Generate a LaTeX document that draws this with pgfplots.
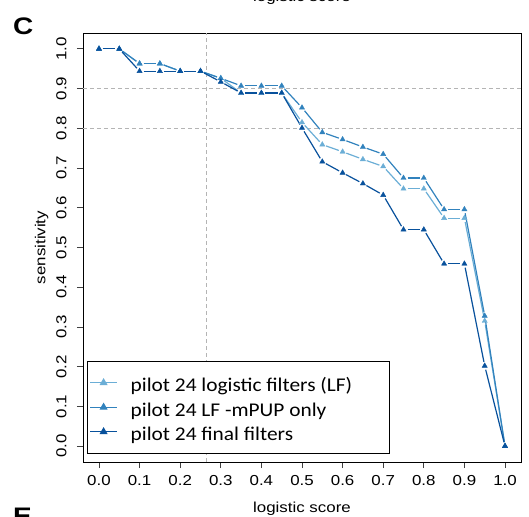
\documentclass[border=0pt]{standalone}
\usepackage{fontspec}
\usepackage{pgfplots}
\usepackage{pgfplotstable}
\pgfplotsset{compat=1.18}
\setmainfont{Liberation Sans}[FakeStretch=1.17]
\newfontfamily\legfont{Carlito}[FakeStretch=1.1]
\definecolor{cLF}{HTML}{6BAED6}
\definecolor{cMP}{HTML}{3182BD}
\definecolor{cFF}{HTML}{08519C}
\definecolor{gridc}{HTML}{B4B4B4}

% x, y, next y
\pgfplotstableread{
x y yn
0.00 1.000 1.000
0.05 1.000 0.963
0.10 0.963 0.963
0.15 0.963 0.944
0.20 0.944 0.944
0.25 0.944 0.926
0.30 0.926 0.889
0.35 0.889 0.889
0.40 0.889 0.889
0.45 0.889 0.815
0.50 0.815 0.759
0.55 0.759 0.741
0.60 0.741 0.722
0.65 0.722 0.704
0.70 0.704 0.648
0.75 0.648 0.648
0.80 0.648 0.574
0.85 0.574 0.574
0.90 0.574 0.315
0.95 0.315 0.000
1.00 0.000 0.000
}\tLF
\pgfplotstableread{
x y yn
0.00 1.000 1.000
0.05 1.000 0.963
0.10 0.963 0.963
0.15 0.963 0.944
0.20 0.944 0.944
0.25 0.944 0.926
0.30 0.926 0.907
0.35 0.907 0.907
0.40 0.907 0.907
0.45 0.907 0.852
0.50 0.852 0.790
0.55 0.790 0.772
0.60 0.772 0.753
0.65 0.753 0.735
0.70 0.735 0.675
0.75 0.675 0.675
0.80 0.675 0.596
0.85 0.596 0.596
0.90 0.596 0.328
0.95 0.328 0.000
1.00 0.000 0.000
}\tMP
\pgfplotstableread{
x y yn
0.00 1.000 1.000
0.05 1.000 0.944
0.10 0.944 0.944
0.15 0.944 0.944
0.20 0.944 0.944
0.25 0.944 0.917
0.30 0.917 0.889
0.35 0.889 0.889
0.40 0.889 0.889
0.45 0.889 0.801
0.50 0.801 0.716
0.55 0.716 0.688
0.60 0.688 0.661
0.65 0.661 0.632
0.70 0.632 0.545
0.75 0.545 0.545
0.80 0.545 0.459
0.85 0.459 0.459
0.90 0.459 0.202
0.95 0.202 0.000
1.00 0.000 0.000
}\tFF

\begin{document}
\begin{tikzpicture}
\begin{axis}[
  at={(0bp,0bp)}, anchor=south west,
  scale only axis, width=438bp, height=429bp,
  xmin=-0.0394, xmax=1.0394, ymin=-0.04, ymax=1.04,
  axis line style={line width=0.9bp, black},
  xtick={0,0.1,0.2,0.3,0.4,0.5,0.6,0.7,0.8,0.9,1.0},
  ytick={0,0.1,0.2,0.3,0.4,0.5,0.6,0.7,0.8,0.9,1.0},
  xtick pos=bottom, ytick pos=left,
  tick align=outside, major tick length=6bp,
  tick style={line width=0.8bp, black!75},
  /pgf/number format/assume math mode=true,
  /pgf/number format/.cd, fixed, fixed zerofill, precision=1, /pgfplots/.cd,
  ticklabel style={font=\fontsize{14.5}{17}\selectfont},
  xticklabel style={yshift=-4bp},
  yticklabel style={rotate=90, anchor=south, yshift=7bp},
  xlabel={logistic score}, ylabel={sensitivity},
  label style={font=\fontsize{14.5}{17}\selectfont},
  xlabel style={at={(rel axis cs:0.5,0)}, anchor=base, yshift=-50bp},
  ylabel style={at={(rel axis cs:0,0.5)}, anchor=base, yshift=37.5bp},
  clip=false,
  legend cell align=left,
  legend style={at={(0.0091,0.0186)}, anchor=south west,
    draw=black, line width=1bp, inner xsep=2bp, inner ysep=9.5bp,
    font=\legfont\fontsize{19.5}{22}\selectfont,
    nodes={text height=20.75bp, text depth=2.75bp, inner ysep=0.5bp},
    column sep=11bp},
  legend image code/.code={\draw[mark repeat=2, mark phase=2, line width=1.2bp, #1]
     plot coordinates {(0bp,0bp) (13.5bp,0bp) (27bp,0bp)};},
]
% reference lines
\draw[gridc, line width=1bp, dash pattern=on 4bp off 3bp] (axis cs:0.265,-0.04) -- (axis cs:0.265,1.04);
\draw[gridc, line width=1bp, dash pattern=on 4bp off 3bp] (axis cs:-0.0394,0.9) -- (axis cs:1.0394,0.9);
\draw[gridc, line width=1bp, dash pattern=on 4bp off 3bp] (axis cs:-0.0394,0.8) -- (axis cs:1.0394,0.8);

% segments (type b: gaps around points)
\addplot[forget plot, cLF, line width=1.2bp, restrict x to domain=-0.01:0.96,
   quiver={u=0.05, v=\thisrow{yn}-\thisrow{y},
   every arrow/.append style={shorten <=4bp, shorten >=4bp}}] table[x=x,y=y] {\tLF};
\addplot[forget plot, cMP, line width=1.2bp, restrict x to domain=-0.01:0.96,
   quiver={u=0.05, v=\thisrow{yn}-\thisrow{y},
   every arrow/.append style={shorten <=4bp, shorten >=4bp}}] table[x=x,y=y] {\tMP};
\addplot[forget plot, cFF, line width=1.2bp, restrict x to domain=-0.01:0.96,
   quiver={u=0.05, v=\thisrow{yn}-\thisrow{y},
   every arrow/.append style={shorten <=4bp, shorten >=4bp}}] table[x=x,y=y] {\tFF};
% markers
\addplot[forget plot, only marks, mark=triangle*, mark size=3bp, cLF] table[x=x,y=y] {\tLF};
\addplot[forget plot, only marks, mark=triangle*, mark size=3bp, cMP] table[x=x,y=y] {\tMP};
\addplot[forget plot, only marks, mark=triangle*, mark size=3bp, cFF] table[x=x,y=y] {\tFF};

\addlegendimage{cLF, mark=triangle*, mark size=3.5bp, solid}
\addlegendentry{\makebox[255bp][l]{pilot 24 logistic filters (LF)}}
\addlegendimage{cMP, mark=triangle*, mark size=3.5bp, solid}
\addlegendentry{pilot 24 LF -mPUP only}
\addlegendimage{cFF, mark=triangle*, mark size=3.5bp, solid}
\addlegendentry{pilot 24 final filters}
\end{axis}
\node[anchor=south west, inner sep=0pt, font=\bfseries\fontsize{24}{26}\selectfont] at (-70bp,427bp) {C};
\node[anchor=north west, inner sep=0pt, font=\bfseries\fontsize{24}{26}\selectfont] at (-70bp,-46bp) {E};
\node[anchor=base, inner sep=0pt, font=\fontsize{14.5}{17}\selectfont] at (219bp,460bp) {logistic score};
\pgfresetboundingbox
\useasboundingbox (-83bp,-55bp) rectangle (446bp,462bp);
\end{tikzpicture}
\end{document}
